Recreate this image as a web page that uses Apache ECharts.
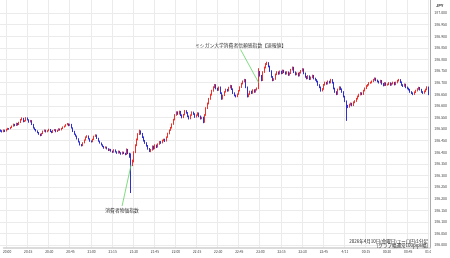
<!DOCTYPE html>
<html><head><meta charset="utf-8">
<script src="https://cdn.jsdelivr.net/npm/echarts@6/dist/echarts.min.js"></script>
<style>html,body{margin:0;padding:0;background:#fff}#c{width:450px;height:258px}</style>
</head><body><div id="c"></div>
<script>
// EUR/JPY 1-minute candles, 2026-04-10 19:58 -> 04-11 01:00
// rows: [open, close, low, high] in thousandths of a yen above 186.000
const priceBase = 186;
const startTime = '19:58';
const h20 = [
[495,492,488,498],[492,488,485,495],[488,495,486,498],[495,490,487,497],[490,498,489,501],[498,502,495,505],[502,500,497,504],[500,506,499,509],
[506,512,504,515],[512,520,510,523],[520,515,512,522],[515,524,513,527],[524,518,515,526],
[518,528,517,531],[528,540,526,543],[540,546,537,550],[546,532,529,548],[532,535,530,538],[535,548,533,551],[548,540,537,550],[540,530,527,542],[530,536,528,539],
[536,520,517,538],[520,505,502,522],[505,498,495,507],[498,492,489,500],
[492,485,482,494],[485,478,475,487],[478,472,469,480],[472,480,470,483],[480,490,478,493],
[490,495,488,498],[495,488,485,497],[488,492,486,495],[492,498,490,501],[498,490,487,500],[490,485,482,492],[485,493,483,496],[493,497,491,500],[497,489,486,499],[489,494,487,497],[494,500,492,503],[500,496,493,502],
[496,502,494,505],[502,508,500,511],[508,512,506,515],[512,518,510,521],[518,522,516,526],[522,515,512,524],[515,520,513,523],
[520,505,502,522],[505,490,487,507],[490,478,475,492],[478,470,467,480],[470,458,455,472],[458,445,442,460],[445,432,429,447],[432,428,425,435],
[428,440,426,443],[440,452,438,455],[452,465,450,468],[465,470,462,473]
];
const h21 = [
[470,458,455,472],[458,448,445,460],
[448,445,442,451],[445,455,443,458],[455,468,453,471],[468,474,466,477],[474,460,457,476],[460,448,445,462],[448,440,437,450],
[440,432,429,442],[432,425,422,434],[425,418,415,427],[418,422,416,425],
[422,415,412,424],[415,408,405,417],[408,412,406,415],[412,405,402,414],[405,400,397,407],[400,410,398,413],[410,402,399,412],[402,396,393,404],[396,404,394,407],[404,398,395,406],[398,392,389,400],[392,400,390,403],[400,395,392,402],[395,390,387,397],
[390,412,388,416],[412,395,392,414],[395,380,376,397],
[380,350,224,395],
[350,360,340,368],[360,400,356,404],[400,430,396,434],[430,455,426,459],[455,478,451,482],[478,492,474,497],
[492,480,476,494],[480,465,461,483],[465,450,446,468],[450,440,436,453],[440,428,424,443],[428,415,411,431],[415,405,401,418],
[405,410,400,414],[410,425,407,429],[425,415,411,428],[415,430,413,434],[430,422,418,433],
[422,435,420,438],[435,445,432,448],[445,440,436,448],[440,450,438,454],[450,455,447,458],[455,448,444,458],
[448,465,446,468],[465,480,462,484],[480,495,477,498],[495,505,492,509],
[505,520,502,524]
];
const h22 = [
[520,540,518,544],[540,560,537,564],[560,572,557,576],
[572,565,561,576],[565,575,562,579],[575,560,556,578],[560,550,546,563],[550,562,547,565],[562,578,559,582],[578,570,566,581],[570,555,551,573],[555,545,541,558],[545,560,542,563],[560,572,557,576],[572,565,561,575],[565,552,548,568],[552,560,549,563],[560,568,557,572],[568,555,551,571],[555,545,541,558],[545,550,542,553],
[550,530,525,553],
[530,560,527,564],[560,590,557,594],[590,610,586,614],[610,630,606,634],[630,648,626,652],[648,665,644,669],[665,680,661,684],[680,690,676,694],
[690,675,671,693],[675,668,664,678],[668,680,665,683],[680,655,651,683],[655,630,626,658],
[630,645,627,648],[645,660,642,663],[660,670,657,674],[670,665,661,673],[665,678,662,682],[678,686,675,690],[686,672,668,689],
[672,655,651,675],[655,645,641,658],[645,640,636,648],[640,650,637,653],
[650,665,647,668],[665,680,662,684],[680,695,677,699],[695,705,692,709],[705,712,701,716],
[712,680,676,715],[680,640,636,683],
[640,650,637,653],[650,662,647,665],[662,655,651,665],[655,668,652,671],[668,660,656,671],[660,670,657,673],[670,675,666,679]
];
const h23 = [
[675,745,672,762],
[745,730,726,750],[730,710,706,733],[710,745,707,749],[745,765,742,769],[765,780,761,784],[780,785,776,790],[785,770,766,788],[770,750,746,773],
[750,725,721,753],[725,710,706,728],[710,715,707,719],[715,735,712,739],[735,745,732,749],[745,738,734,748],[738,748,735,752],[748,740,736,751],[740,752,737,756],[752,745,741,755],
[745,738,734,748],[738,745,735,749],[745,733,729,748],[733,740,730,744],[740,755,737,759],[755,765,752,769],[765,745,741,768],[745,735,731,748],[735,740,732,744],[740,730,726,743],
[730,742,727,746],[742,750,739,754],[750,758,747,762],[758,740,736,761],[740,725,721,743],[725,718,714,728],[718,728,715,732],[728,715,711,731],[715,722,712,726],[722,730,719,734],
[730,718,714,733],[718,712,708,721],[712,705,701,715],[705,690,686,708],[690,680,676,693],[680,665,661,683],[665,672,662,676],[672,690,669,694],[690,700,687,704],[700,695,691,703],
[695,705,692,709],[705,700,696,708],[700,712,697,716],[712,700,696,715],[700,675,671,703],[675,660,656,678],[660,650,646,663],[650,670,647,674],[670,680,667,684],[680,672,668,683],[672,660,656,675]
];
const h00 = [
[660,640,636,663],[640,620,616,643],[620,600,535,623],[600,595,590,604],[595,605,592,609],
[605,610,601,614],[610,602,598,613],[602,615,599,619],[615,620,611,624],
[620,630,617,634],[630,640,627,644],[640,648,637,652],[648,655,645,659],[655,650,646,658],
[650,665,647,669],[665,675,662,679],[675,685,672,689],
[685,690,682,694],[690,698,687,702],[698,700,695,704],
[700,705,697,709],[705,712,702,716],[712,718,709,722],[718,710,706,721],
[710,705,701,713],[705,700,696,708],[700,708,697,712],
[708,695,691,711],[695,688,684,698],[688,698,685,702],[698,690,686,701],
[690,692,687,696],[692,698,689,702],[698,690,686,701],[690,695,687,699],[695,700,692,704],[700,692,688,703],
[692,700,689,704],[700,708,697,712],[708,712,705,716],[712,702,698,715],
[702,690,686,705],[690,685,681,693],[685,692,682,696],[692,680,676,695],[680,675,671,683],[675,670,666,678],
[670,660,656,673],[660,655,651,663],[655,650,646,658],[650,658,647,662],
[658,665,655,669],[665,672,662,676],[672,678,669,682],[678,670,666,681],
[670,660,656,673],[660,655,651,663],[655,662,652,666],
[662,670,659,674],[670,680,667,684],
[680,650,646,683]
];
const tickTimes  = ['20:00','20:15','20:30','20:45','21:00','21:15','21:30','21:45','22:00','22:15','22:30','22:45','23:00','23:15','23:30','23:45','00:00','00:15','00:30','00:45','01:00'];
const tickLabels = ['20:00','20:15','20:30','20:45','21:00','21:15','21:30','21:45','22:00','22:15','22:30','22:45','23:00','23:15','23:30','23:45','4/11','00:15','00:30','00:45','01:00'];
const yTicks = {min:186.0, max:187.0, step:0.05};
const notes = [
  {time:'21:30', price:186.345, text:'消費者物価指数', dx:-9, dy:41, tdy:4},
  {time:'23:00', price:186.700, text:'ミシガン大学消費者信頼感指数【速報値】', dx:-18, dy:-33, tdy:-4}
];
const footer1 = '2026年4月10日(金曜日)ユーロ円/1分足';
const footer2 = '[グラフ幅通常100pips幅]';

const rows = [].concat(h20, h21, h22, h23, h00);
const [sh, sm] = startTime.split(':').map(Number);
const times = rows.map((r, i) => {
  const t = sh * 60 + sm + i;
  const hh = Math.floor(t / 60) % 24, mm = t % 60;
  return String(hh).padStart(2, '0') + ':' + String(mm).padStart(2, '0');
});
const labelMap = {};
tickTimes.forEach((t, k) => labelMap[t] = tickLabels[k]);
const isTick = (idx, val) => labelMap[val] !== undefined;
const candles = rows.map(r => r.map(v => +(priceBase + v / 1000).toFixed(3)));

const FONT = "'Noto Sans CJK JP', 'Noto Sans', sans-serif";
const chart = echarts.init(document.getElementById('c'), null, {renderer: 'canvas'});
const UP = '#e8352f', DOWN = '#3030cc', GRID = '#ebebeb';
chart.setOption({
  animation: false,
  textStyle: {fontFamily: FONT},
  grid: [
    {left: 0, right: 20, top: 0, bottom: 10},
    {left: 0, right: 20, top: 13, bottom: 13}
  ],
  xAxis: [
    {gridIndex: 0, type: 'category', data: times, boundaryGap: true,
     axisLine: {show: true, lineStyle: {color: '#cfcfcf', width: 1.5}},
     axisTick: {show: false},
     axisLabel: {interval: isTick, formatter: v => labelMap[v] || '', fontSize: 3.3, color: '#444', margin: 2.5, fontFamily: FONT},
     splitLine: {show: true, interval: isTick, lineStyle: {color: GRID, width: 1}}},
    {gridIndex: 1, type: 'category', data: times, boundaryGap: true, show: false}
  ],
  yAxis: [
    {gridIndex: 0, type: 'value', position: 'right', min: 0, max: 1,
     axisLine: {show: true, lineStyle: {color: '#aaaaaa', width: 1}},
     axisTick: {show: false}, axisLabel: {show: false}, splitLine: {show: false}},
    {gridIndex: 1, type: 'value', position: 'right', min: yTicks.min, max: yTicks.max, interval: yTicks.step,
     axisLine: {show: false}, axisTick: {show: false},
     axisLabel: {fontSize: 3.5, color: '#444', margin: 5, formatter: v => v.toFixed(3), fontFamily: FONT},
     splitLine: {show: true, lineStyle: {color: GRID, width: 1}}}
  ],
  series: [{
    type: 'candlestick', xAxisIndex: 1, yAxisIndex: 1, data: candles,
    barWidth: 1.3,
    itemStyle: {color: UP, color0: DOWN, borderColor: UP, borderColor0: DOWN, borderWidth: 1}
  }]
});

const g = [];
notes.forEach(n => {
  const p = chart.convertToPixel({xAxisIndex: 1, yAxisIndex: 1}, [n.time, n.price]);
  const ex = p[0] + n.dx, ey = p[1] + n.dy;
  g.push({type: 'line', shape: {x1: p[0], y1: p[1], x2: ex, y2: ey}, style: {stroke: '#5fd35f', lineWidth: 0.8}, z: 50});
  g.push({type: 'text', x: ex, y: ey + n.tdy, style: {text: n.text, fill: '#333', font: '4.8px ' + FONT, align: 'center', verticalAlign: 'middle'}, z: 50});
});
g.push({type: 'rect', shape: {x: 431, y: 249, width: 19, height: 9}, style: {fill: '#fff'}, z: 60});
g.push({type: 'text', x: 436, y: 5, style: {text: 'JPY', fill: '#333', font: 'bold 4px ' + FONT, align: 'left', verticalAlign: 'middle'}, z: 60});
g.push({type: 'text', x: 428, y: 241, style: {text: footer1, fill: '#222', font: '4.5px ' + FONT, align: 'right', verticalAlign: 'middle'}, z: 60});
g.push({type: 'text', x: 428, y: 245.7, style: {text: footer2, fill: '#222', font: '4.5px ' + FONT, align: 'right', verticalAlign: 'middle'}, z: 60});
chart.setOption({graphic: g});
</script>
</body></html>
